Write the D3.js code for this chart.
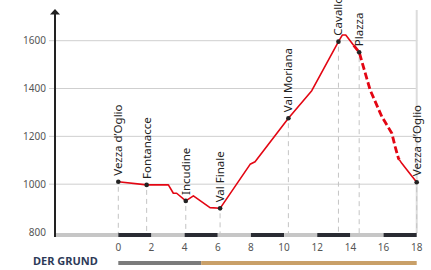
<!DOCTYPE html>
<html>
<head>
<meta charset="utf-8">
<script src="https://cdn.jsdelivr.net/npm/d3@7"></script>
<style>
  html, body { margin: 0; padding: 0; background: #fff; }
  svg { display: block; font-family: "Noto Sans", sans-serif; }
</style>
</head>
<body>
<svg id="chart" width="431" height="270"></svg>
<script>
// elevation profile: km, metres
const profileKm = [0, 1.71, 3.02, 3.32, 3.52, 4.07, 4.53, 5.53, 6.14, 7.95, 8.25, 10.26, 11.67, 13.28, 13.52, 13.72, 14.18, 14.53, 15.19, 15.9, 16.5, 16.7, 16.9, 17.1, 17.5, 18];
const profileElev = [1010, 997, 997, 962, 962, 930, 951, 902, 899, 1083, 1094, 1276, 1391, 1596, 1624, 1624, 1582, 1552, 1394, 1282, 1213, 1157, 1108, 1087, 1052, 1008];
const dashedFrom = 14.2, dashedTo = 16.95;

const waypointNames = ['Vezza d\u2019Oglio', 'Fontanacce', 'Incudine', 'Val Finale', 'Val Moriana', 'Cavallo', 'Plazza', 'Vezza d\u2019Oglio'];
const waypointKm = [0, 1.71, 4.07, 6.14, 10.26, 13.28, 14.53, 18];
const waypointElev = [1010, 997, 930, 899, 1276, 1596, 1552, 1008];

const yTicks = [800, 1000, 1200, 1400, 1600];
const xTicks = [0, 2, 4, 6, 8, 10, 12, 14, 16, 18];

const groundLabel = 'DER GRUND';
const groundFrom = [0, 5];
const groundTo = [5, 18];
const groundColor = ['#7b7b7b', '#c9a068'];

const svg = d3.select('#chart');
const x = d3.scaleLinear().domain([0, 18]).range([118.3, 416.7]);
const y = d3.scaleLinear().domain([800, 1600]).range([232, 40.7]);
const axisX = 55, barY = 233, barH = 4;

// grid lines
svg.append('g').selectAll('line').data(yTicks.filter(t => t > 800)).join('line')
  .attr('x1', axisX - 6).attr('x2', x(18)).attr('y1', d => y(d)).attr('y2', d => y(d))
  .attr('stroke', '#cfcfcf').attr('stroke-width', 1);
svg.append('line').attr('x1', x(18)).attr('x2', x(18)).attr('y1', 10).attr('y2', barY)
  .attr('stroke', '#dcdcdc').attr('stroke-width', 2);

svg.append('g').selectAll('text').data(yTicks).join('text')
  .attr('x', axisX - 9).attr('y', d => y(d)).attr('dy', '0.35em')
  .attr('text-anchor', 'end').attr('font-size', 10).attr('fill', '#555')
  .text(d => d);

// waypoint drop lines
svg.append('g').selectAll('line').data(waypointKm).join('line')
  .attr('x1', d => x(d)).attr('x2', d => x(d))
  .attr('y1', (d, i) => y(waypointElev[i]) + 5).attr('y2', barY)
  .attr('stroke', '#c4c4c4').attr('stroke-width', 1).attr('stroke-dasharray', '5,4');

// distance bar
const segs = d3.range(0, 18, 2);
svg.append('rect').attr('x', axisX).attr('y', barY).attr('width', x(0) - axisX).attr('height', barH).attr('fill', '#c6c6c6');
svg.append('g').selectAll('rect').data(segs).join('rect')
  .attr('x', d => x(d)).attr('y', barY).attr('width', d => x(d + 2) - x(d)).attr('height', barH)
  .attr('fill', (d, i) => i % 2 === 0 ? '#2a2c33' : '#c6c6c6');

svg.append('g').selectAll('text').data(xTicks).join('text')
  .attr('x', d => x(d)).attr('y', 247).attr('dy', '0.35em')
  .attr('text-anchor', 'middle').attr('font-size', 10).attr('fill', '#555')
  .text(d => d);

// y axis with arrow
svg.append('line').attr('x1', axisX).attr('x2', axisX).attr('y1', 13).attr('y2', barY + barH)
  .attr('stroke', '#222').attr('stroke-width', 2);
svg.append('path').attr('d', `M${axisX - 5},14.5 L${axisX},9 L${axisX + 5},14.5 Z`).attr('fill', '#222');

// profile
const pts = profileKm.map((k, i) => ({ k, e: profileElev[i] }));
const line = d3.line().x(d => x(d.k)).y(d => y(d.e));
const partA = pts.filter(d => d.k <= dashedFrom);
const partB = pts.filter(d => d.k >= dashedFrom && d.k <= dashedTo);
const partC = pts.filter(d => d.k >= dashedTo);
function interp(k) {
  const i = d3.bisector(d => d.k).right(pts, k) - 1;
  const a = pts[i], b = pts[i + 1];
  return { k, e: a.e + (b.e - a.e) * (k - a.k) / (b.k - a.k) };
}
const edge1 = interp(dashedFrom), edge2 = interp(dashedTo);
svg.append('path').attr('d', line([...partA, edge1])).attr('fill', 'none').attr('stroke', '#e30613').attr('stroke-width', 1.6).attr('stroke-linejoin', 'round');
svg.append('path').attr('d', line([edge1, ...partB, edge2])).attr('fill', 'none').attr('stroke', '#e30613').attr('stroke-width', 2.8).attr('stroke-dasharray', '7,3');
svg.append('path').attr('d', line([edge2, ...partC])).attr('fill', 'none').attr('stroke', '#e30613').attr('stroke-width', 1.6).attr('stroke-linejoin', 'round');

// waypoints
svg.append('g').selectAll('circle').data(waypointKm).join('circle')
  .attr('cx', d => x(d)).attr('cy', (d, i) => y(waypointElev[i])).attr('r', 2.3).attr('fill', '#222');
svg.append('g').selectAll('text').data(waypointNames).join('text')
  .attr('transform', (d, i) => `translate(${x(waypointKm[i])},${y(waypointElev[i]) - 6}) rotate(-90)`)
  .attr('dy', '0.35em').attr('font-size', 11.5).attr('fill', '#222')
  .text(d => d);

// ground surface
svg.append('text').attr('x', 33).attr('y', 261).attr('dy', '0.35em')
  .attr('font-size', 11).attr('font-weight', 'bold').attr('fill', '#2d3a58').text(groundLabel);
svg.append('g').selectAll('rect').data(groundFrom).join('rect')
  .attr('x', d => x(d)).attr('y', 261).attr('width', (d, i) => x(groundTo[i]) - x(d)).attr('height', 4)
  .attr('fill', (d, i) => groundColor[i]);
</script>
</body>
</html>
